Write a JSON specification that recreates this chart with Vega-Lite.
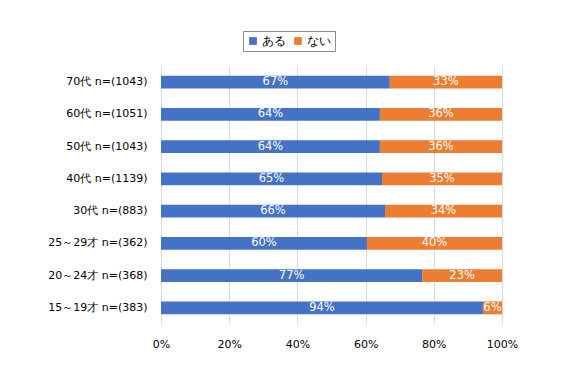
{
  "$schema": "https://vega.github.io/schema/vega-lite/v6.json",
  "width": 341,
  "height": 258,
  "autosize": {"type": "none"},
  "padding": {"left": 161, "top": 66, "right": 65, "bottom": 54},
  "background": "white",
  "config": {
    "view": {"stroke": null},
    "font": "DejaVu Sans",
    "axis": {"labelFont": "DejaVu Sans", "labelColor": "#000000", "labelFontSize": 11}
  },
  "data": {
    "values": [
      {"group": "70代 n=(1043)", "cat": "ある", "ord": 1, "v": 0.671},
      {"group": "70代 n=(1043)", "cat": "ない", "ord": 2, "v": 0.329},
      {"group": "60代 n=(1051)", "cat": "ある", "ord": 1, "v": 0.642},
      {"group": "60代 n=(1051)", "cat": "ない", "ord": 2, "v": 0.358},
      {"group": "50代 n=(1043)", "cat": "ある", "ord": 1, "v": 0.642},
      {"group": "50代 n=(1043)", "cat": "ない", "ord": 2, "v": 0.358},
      {"group": "40代 n=(1139)", "cat": "ある", "ord": 1, "v": 0.648},
      {"group": "40代 n=(1139)", "cat": "ない", "ord": 2, "v": 0.352},
      {"group": "30代 n=(883)", "cat": "ある", "ord": 1, "v": 0.657},
      {"group": "30代 n=(883)", "cat": "ない", "ord": 2, "v": 0.343},
      {"group": "25～29才 n=(362)", "cat": "ある", "ord": 1, "v": 0.604},
      {"group": "25～29才 n=(362)", "cat": "ない", "ord": 2, "v": 0.396},
      {"group": "20～24才 n=(368)", "cat": "ある", "ord": 1, "v": 0.766},
      {"group": "20～24才 n=(368)", "cat": "ない", "ord": 2, "v": 0.234},
      {"group": "15～19才 n=(383)", "cat": "ある", "ord": 1, "v": 0.944},
      {"group": "15～19才 n=(383)", "cat": "ない", "ord": 2, "v": 0.056}
    ]
  },
  "encoding": {
    "y": {
      "field": "group",
      "type": "nominal",
      "sort": null,
      "title": null,
      "scale": {"paddingInner": 0.6, "paddingOuter": 0.3},
      "axis": {"domain": false, "ticks": false, "labelPadding": 14, "grid": false}
    },
    "x": {
      "field": "v",
      "type": "quantitative",
      "stack": "normalize",
      "title": null,
      "scale": {"domain": [0, 1]},
      "axis": {
        "format": ".0%",
        "values": [0, 0.2, 0.4, 0.6, 0.8, 1],
        "domain": false,
        "ticks": false,
        "grid": true,
        "gridColor": "#d9d9d9",
        "labelPadding": 14,
        "labelFlush": false
      }
    },
    "order": {"field": "ord", "type": "quantitative"}
  },
  "layer": [
    {
      "mark": {"type": "bar"},
      "encoding": {
        "color": {
          "field": "cat",
          "type": "nominal",
          "sort": ["ある", "ない"],
          "scale": {"domain": ["ある", "ない"], "range": ["#4472C4", "#ED7D31"]},
          "legend": {
            "title": null,
            "orient": "none",
            "legendX": 82,
            "legendY": -35,
            "direction": "horizontal",
            "symbolType": "square",
            "symbolSize": 60,
            "symbolStrokeWidth": 0,
            "labelFontSize": 12,
            "labelColor": "#000000",
            "columnPadding": 6,
            "padding": 4,
            "strokeColor": "#8c8c8c",
            "labelOffset": 3
          }
        }
      }
    },
    {
      "mark": {"type": "text", "color": "white", "fontSize": 11.5},
      "encoding": {
        "x": {"field": "v", "type": "quantitative", "stack": "normalize", "bandPosition": 0.5},
        "text": {"field": "v", "type": "quantitative", "format": ".0%"}
      }
    }
  ]
}
